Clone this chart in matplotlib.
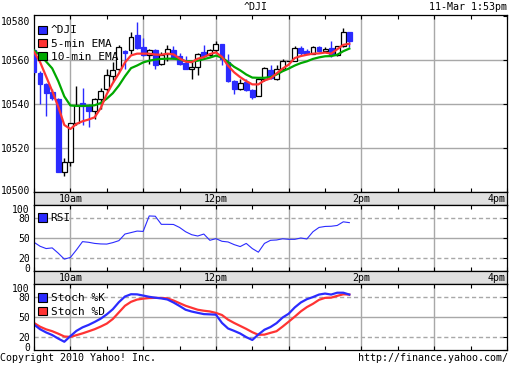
import numpy as np
import matplotlib.pyplot as plt
from matplotlib.patches import Rectangle, Patch
from matplotlib.transforms import ScaledTranslation

# 5-minute candles for ^DJI, 11-Mar, starting 9:30
opens = [10564.5, 10554.3, 10549.0, 10545.6, 10542.3, 10509.2, 10513.5, 10531.2, 10540.7, 10539.8,
         10537.0, 10542.3, 10546.8, 10552.7, 10556.2, 10564.4, 10564.5, 10571.4, 10566.0, 10562.5,
         10564.5, 10558.5, 10563.0, 10564.6, 10562.0, 10558.8, 10556.0, 10557.0, 10563.8, 10562.3,
         10564.5, 10567.3, 10559.0, 10550.6, 10547.0, 10550.0, 10546.4, 10543.8, 10551.6, 10555.5,
         10551.4, 10555.9, 10559.7, 10559.8, 10565.6, 10564.0, 10563.0, 10566.0, 10564.1, 10565.6,
         10562.5, 10566.4, 10572.9]
highs = [10565.0, 10555.0, 10549.5, 10547.0, 10543.0, 10515.7, 10531.5, 10548.3, 10547.4, 10540.0,
         10543.0, 10547.5, 10556.0, 10559.2, 10567.0, 10564.6, 10572.9, 10577.4, 10570.0, 10565.0,
         10565.0, 10563.8, 10566.8, 10566.5, 10563.5, 10561.9, 10559.2, 10563.2, 10566.8, 10565.2,
         10568.6, 10567.5, 10563.0, 10551.0, 10551.4, 10551.5, 10547.0, 10552.0, 10557.0, 10557.7,
         10558.0, 10560.7, 10559.8, 10566.5, 10566.5, 10565.0, 10566.3, 10566.3, 10566.0, 10568.6,
         10566.6, 10574.7, 10573.0]
lows = [10553.5, 10540.0, 10534.6, 10541.7, 10509.0, 10507.4, 10512.0, 10530.5, 10530.5, 10529.7,
        10533.2, 10538.0, 10546.0, 10550.0, 10555.0, 10556.2, 10563.0, 10565.0, 10562.0, 10558.5,
        10556.2, 10558.0, 10559.5, 10560.5, 10557.7, 10556.0, 10551.6, 10553.5, 10561.5, 10562.0,
        10563.5, 10558.0, 10550.0, 10544.5, 10546.5, 10546.0, 10542.5, 10543.5, 10550.5, 10551.5,
        10550.8, 10555.5, 10559.6, 10559.5, 10562.5, 10562.8, 10562.8, 10563.8, 10563.8, 10561.3,
        10562.0, 10566.0, 10566.0]
closes = [10554.5, 10549.0, 10545.3, 10543.0, 10509.2, 10513.5, 10531.2, 10539.8, 10539.2, 10537.0,
          10542.3, 10546.0, 10553.2, 10555.5, 10566.0, 10563.2, 10570.6, 10565.7, 10562.5, 10564.5,
          10558.0, 10562.5, 10565.3, 10561.0, 10558.5, 10556.2, 10557.0, 10563.0, 10562.0, 10564.5,
          10567.5, 10560.5, 10550.5, 10547.0, 10549.7, 10546.4, 10543.3, 10551.6, 10556.6, 10552.1,
          10555.9, 10559.5, 10559.7, 10565.6, 10563.5, 10563.0, 10566.0, 10564.1, 10565.3, 10562.5,
          10566.4, 10572.7, 10568.6]
ema5 = [10563.8, 10559.2, 10552.6, 10546.0, 10538.8, 10530.5, 10528.7, 10531.0, 10532.2, 10533.0,
        10534.0, 10538.2, 10544.6, 10549.6, 10554.0, 10559.0, 10562.2, 10563.0, 10563.0, 10563.0,
        10562.6, 10562.5, 10563.0, 10562.7, 10560.8, 10559.4, 10559.1, 10560.7, 10561.4, 10562.8,
        10563.6, 10561.5, 10557.5, 10554.5, 10552.3, 10550.5, 10549.0, 10549.0, 10550.8, 10551.7,
        10554.0, 10556.2, 10558.0, 10561.0, 10561.9, 10562.5, 10563.0, 10563.1, 10563.5, 10563.0,
        10565.0, 10567.0, 10567.5]
ema10 = [10564.5, 10562.3, 10559.4, 10556.3, 10550.5, 10543.5, 10539.4, 10539.2, 10539.2, 10539.3,
         10539.5, 10540.5, 10542.5, 10545.0, 10548.5, 10552.7, 10556.4, 10557.6, 10559.0, 10559.8,
         10560.3, 10560.6, 10560.7, 10560.7, 10560.4, 10559.6, 10559.5, 10559.8, 10560.5, 10561.2,
         10562.1, 10561.2, 10559.2, 10557.0, 10555.4, 10553.5, 10552.1, 10552.0, 10552.0, 10552.3,
         10553.5, 10555.0, 10556.2, 10557.6, 10558.7, 10559.5, 10560.6, 10561.3, 10561.8, 10561.9,
         10562.5, 10564.1, 10565.3]
rsi = [43.5, 37.5, 34.0, 35.0, 27.0, 18.0, 20.5, 32.0, 44.5, 43.5,
       41.8, 41.0, 40.8, 43.0, 46.0, 56.0, 58.2, 60.5, 60.0, 83.4,
       83.0, 70.7, 70.7, 70.5, 66.0, 59.5, 55.0, 53.0, 56.0, 46.5,
       49.0, 45.0, 44.0, 40.0, 37.0, 41.8, 34.0, 28.5, 41.8, 46.5,
       47.0, 48.8, 48.0, 48.0, 50.0, 48.5, 59.5, 66.0, 67.5, 67.8,
       69.0, 74.5, 73.3]
stoch_k = [38.5, 31.5, 26.6, 22.7, 17.3, 12.5, 21.0, 29.0, 34.3, 38.0,
           42.5, 47.5, 54.0, 61.8, 72.5, 81.0, 84.5, 84.3, 82.5, 80.6,
           79.2, 78.2, 76.5, 72.0, 66.7, 61.0, 58.3, 56.3, 54.4, 54.0,
           53.5, 41.0, 32.6, 29.0, 25.0, 19.5, 15.2, 23.5, 30.7, 34.8,
           40.7, 49.2, 55.0, 64.5, 72.0, 77.0, 80.2, 84.0, 85.5, 84.0,
           86.8, 86.8, 84.0]
stoch_d = [41.0, 35.3, 31.3, 28.5, 24.7, 20.5, 19.8, 22.5, 25.2, 28.3,
           31.5, 35.5, 40.0, 47.0, 57.0, 67.0, 73.0, 76.4, 77.8, 78.7,
           79.0, 78.8, 78.3, 75.0, 71.0, 67.0, 64.0, 61.0, 59.5, 58.4,
           56.2, 53.0, 46.0, 41.0, 36.5, 32.0, 27.0, 23.0, 23.3, 26.0,
           28.5, 35.5, 42.9, 50.5, 58.5, 65.0, 70.0, 76.0, 79.0, 79.3,
           82.0, 84.4, 84.0]

minutes = np.arange(len(opens)) * 5          # minutes after 9:30
hour_lbls = {30: '10am', 150: '12pm', 270: '2pm', 390: '4pm'}

blue = '#2b2bff'
red = '#ff3333'
green = '#00a800'
gridc = '#a8a8a8'
FONT = 'DejaVu Sans Mono'
FS = 7.2

plt.rcParams['font.family'] = FONT
plt.rcParams['font.size'] = FS

W, H = 512, 365
fig = plt.figure(figsize=(W / 100, H / 100), dpi=100)


def box(x0, y0, x1, y1):
    return [x0 / W, 1 - y1 / H, (x1 - x0) / W, (y1 - y0) / H]


ax = fig.add_axes(box(34, 15, 507, 192))
strip1 = fig.add_axes(box(34, 192, 507, 205))
ax_rsi = fig.add_axes(box(34, 205, 507, 271))
strip2 = fig.add_axes(box(34, 271, 507, 284))
ax_st = fig.add_axes(box(34, 284, 507, 350))


def setup_time(a):
    a.set_xlim(0, 390)
    a.set_xticks(np.arange(0, 391, 30))
    a.tick_params(axis='x', direction='in', length=3, top=True, bottom=True,
                  labelbottom=False, width=0.8)
    a.tick_params(axis='y', direction='in', length=3, left=False, right=True,
                  labelleft=True, width=0.8, pad=3, labelsize=7)
    for h in range(30, 390, 60):
        a.axvline(h, color=gridc, lw=1, zorder=0)
    for s in a.spines.values():
        s.set_linewidth(0.9)


def nudge(label, dy_px):
    # shift a tick label vertically by some pixels (positive = up)
    label.set_transform(label.get_transform() + ScaledTranslation(0, dy_px / 100, fig.dpi_scale_trans))


def legend_at(a, handles, dy_px):
    h_px = a.get_position().height * H
    a.legend(handles=handles, loc='upper left', bbox_to_anchor=(0.0, 1 - dy_px / h_px),
             frameon=False, handlelength=0.75, handleheight=0.75,
             handletextpad=0.35, labelspacing=0.28, borderaxespad=0.2, borderpad=0.2,
             prop={'family': FONT, 'size': 8})


# main price panel
setup_time(ax)
ax.set_ylim(10500, 10580.6)
ax.set_yticks([10500, 10520, 10540, 10560, 10580])
for v in [10520, 10540, 10560]:
    ax.axhline(v, color=gridc, lw=1, zorder=0)
ylbls = ax.get_yticklabels()
nudge(ylbls[0], 2)
nudge(ylbls[-1], -4.5)

for x, o, hi, lo, c in zip(minutes, opens, highs, lows, closes):
    up = c >= o
    col = 'black' if up else blue
    ax.vlines(x, lo, hi, color=col, lw=1, zorder=2)
    ax.add_patch(Rectangle((x - 2, min(o, c)), 4, abs(c - o),
                           facecolor='white' if up else blue,
                           edgecolor=col, lw=0.9, zorder=3))

ax.plot(minutes, ema10, color=green, lw=1.6, zorder=4)
ax.plot(minutes, ema5, color=red, lw=1.6, zorder=4)

legend_at(ax, [Patch(facecolor=blue, edgecolor='black', lw=0.8, label='^DJI'),
               Patch(facecolor=red, edgecolor='black', lw=0.8, label='5-min EMA'),
               Patch(facecolor=green, edgecolor='black', lw=0.8, label='10-min EMA')], 6)

# RSI and stochastic panels share the same frame style
for a in (ax_rsi, ax_st):
    setup_time(a)
    a.set_ylim(0, 100)
    a.set_yticks([0, 20, 50, 80, 100])
    a.axhline(50, color=gridc, lw=1, zorder=0)
    for v in [20, 80]:
        a.axhline(v, color=gridc, lw=1, ls=(0, (3, 2)), zorder=0)
    lbls = a.get_yticklabels()
    nudge(lbls[0], 3)
    nudge(lbls[-1], -4.5)

ax_rsi.plot(minutes, rsi, color=blue, lw=0.8)
legend_at(ax_rsi, [Patch(facecolor=blue, edgecolor='black', lw=0.8, label='RSI')], 4)

ax_st.plot(minutes, stoch_d, color=red, lw=1.6)
ax_st.plot(minutes, stoch_k, color=blue, lw=1.6)
legend_at(ax_st, [Patch(facecolor=blue, edgecolor='black', lw=0.8, label='Stoch %K'),
                  Patch(facecolor=red, edgecolor='black', lw=0.8, label='Stoch %D')], 5)

# time label strips
for st in (strip1, strip2):
    st.set_facecolor('#e0e0e0')
    st.set_xlim(0, 390)
    st.set_ylim(0, 1)
    st.set_xticks([])
    st.set_yticks([])
    for s in st.spines.values():
        s.set_linewidth(0.9)
    for m, t in hour_lbls.items():
        st.text(m - 1 if m == 390 else m, 0.45, t, ha='right' if m == 390 else 'center',
                va='center', fontsize=FS)

fig.text(256 / W, 1 - 7 / H, '^DJI', ha='center', va='center', fontsize=FS)
fig.text(507 / W, 1 - 7 / H, '11-Mar 1:53pm', ha='right', va='center', fontsize=FS)
fig.text(0, 1 - 358 / H, 'Copyright 2010 Yahoo! Inc.', ha='left', va='center', fontsize=FS)
fig.text(508 / W, 1 - 358 / H, 'http://finance.yahoo.com/', ha='right', va='center', fontsize=FS)

fig.savefig('out.png', dpi=100)
